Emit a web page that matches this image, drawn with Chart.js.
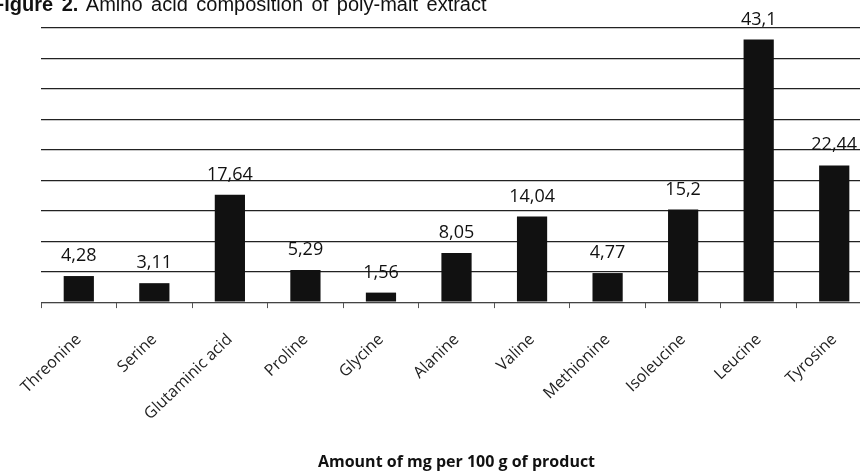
<!DOCTYPE html>
<html>
<head>
<meta charset="utf-8">
<script src="https://cdn.jsdelivr.net/npm/chart.js@4.4.0/dist/chart.umd.min.js"></script>
<style>
  html, body { margin: 0; padding: 0; background: #fff; overflow: hidden; }
  .wrap { position: relative; width: 860px; height: 473px; overflow: hidden; }
  .fig-title {
    position: absolute; left: -8px; top: -6px;
    font-family: "Liberation Sans", Arial, sans-serif;
    font-size: 20px; line-height: 20px; color: #111;
    word-spacing: 3px; white-space: nowrap; z-index: 2;
  }
  .fig-title b { font-weight: bold; }
  canvas { position: absolute; left: 0; top: 0; }
</style>
</head>
<body>
<div class="wrap">
  <div class="fig-title"><b>Figure 2.</b> Amino acid composition of poly-malt extract</div>
  <canvas id="myChart" width="872" height="473"></canvas>
</div>
<script>
// chart data
const aminoAcids = ['Threonine', 'Serine', 'Glutaminic acid', 'Proline', 'Glycine', 'Alanine',
    'Valine', 'Methionine', 'Isoleucine', 'Leucine', 'Tyrosine'];
const amounts = [4.28, 3.11, 17.64, 5.29, 1.56, 8.05, 14.04, 4.77, 15.2, 43.1, 22.44];
const yTicks = [0, 5, 10, 15, 20, 25, 30, 35, 40, 45];

// draws the value over each bar, with a comma as decimal mark
const valueLabels = {
    id: 'valueLabels',
    afterDatasetsDraw(chart) {
        const ctx = chart.ctx;
        const meta = chart.getDatasetMeta(0);
        ctx.save();
        ctx.font = '18px "Open Sans"';
        ctx.fillStyle = '#111';
        ctx.textAlign = 'center';
        ctx.textBaseline = 'alphabetic';
        meta.data.forEach((bar, i) => {
            const txt = String(chart.data.datasets[0].data[i]).replace('.', ',');
            ctx.fillText(txt, bar.x, bar.y - 15);
        });
        ctx.restore();
    }
};

var ctx = document.getElementById('myChart').getContext('2d');

var myChart = new Chart(ctx, {
    type: 'bar',
    data: {
        labels: aminoAcids,
        datasets: [{
            data: amounts,
            backgroundColor: '#111',
            borderWidth: 0,
            barPercentage: 0.4,
            categoryPercentage: 1
        }]
    },
    options: {
        responsive: false,
        animation: false,
        layout: {
            padding: { left: 40, top: 28, right: 0, bottom: 1 }
        },
        plugins: {
            legend: { display: false },
            tooltip: { enabled: false },
            title: { display: false }
        },
        scales: {
            y: {
                min: yTicks[0],
                max: yTicks[yTicks.length - 1],
                afterBuildTicks: (axis) => {
                    axis.ticks = yTicks.map(v => ({ value: v }));
                },
                ticks: { display: false },
                grid: { color: '#222', lineWidth: 1.2, drawTicks: false },
                border: { display: false }
            },
            x: {
                grid: {
                    offset: true,
                    drawOnChartArea: false,
                    drawTicks: true,
                    tickLength: 6,
                    color: '#555'
                },
                border: { color: '#444' },
                ticks: {
                    color: '#222',
                    font: { family: 'Open Sans', size: 16 },
                    minRotation: 44,
                    maxRotation: 44,
                    padding: 22,
                    autoSkip: false
                },
                title: {
                    display: true,
                    text: 'Amount of mg per 100 g of product',
                    color: '#111',
                    font: { family: 'Open Sans', size: 16, weight: 'bold' },
                    padding: { top: 7, bottom: 0 }
                }
            }
        }
    },
    plugins: [valueLabels]
});
</script>
</body>
</html>
